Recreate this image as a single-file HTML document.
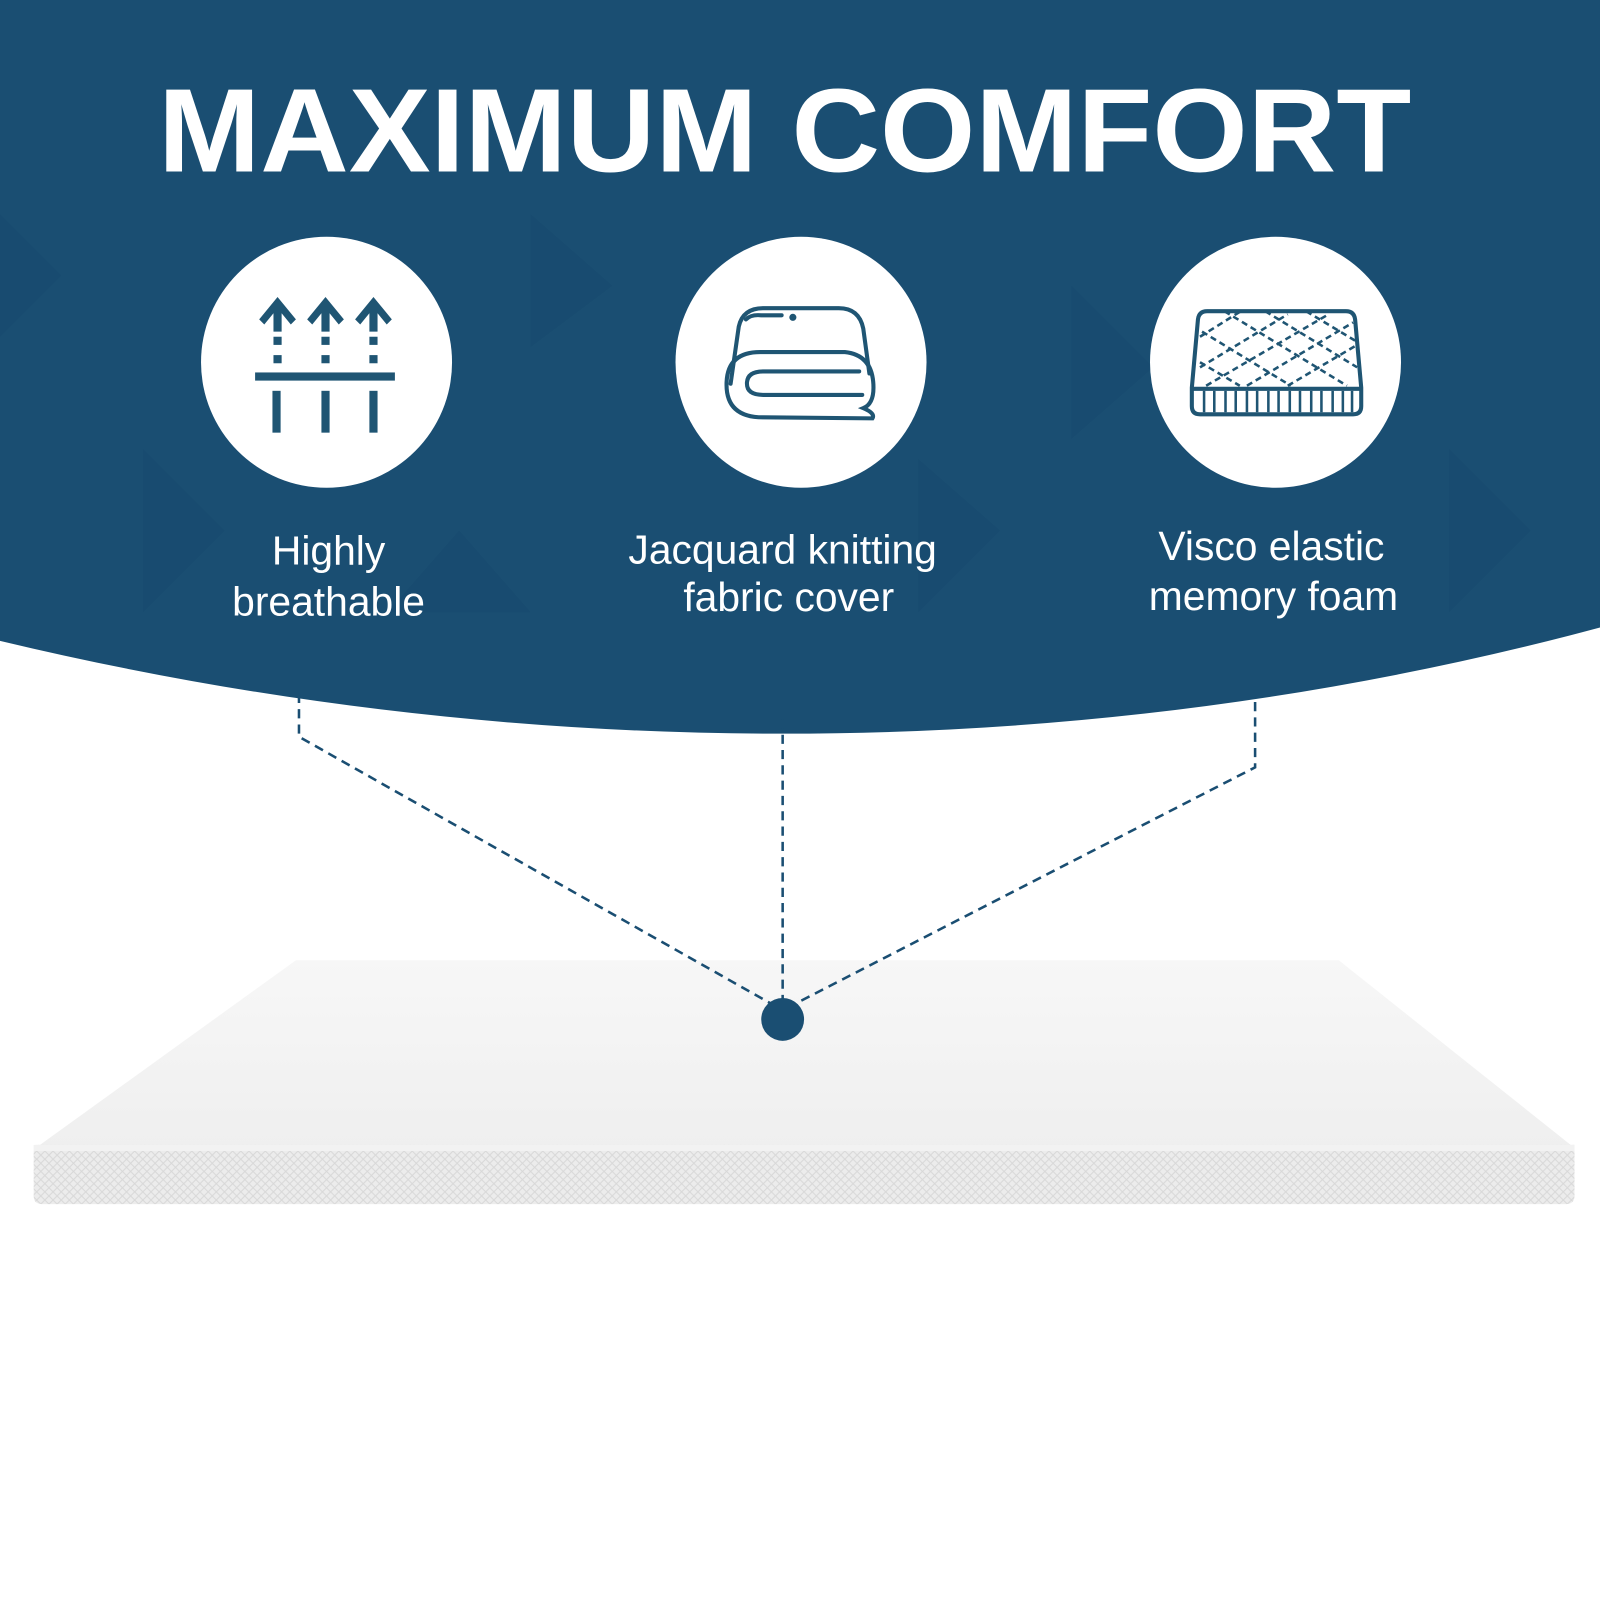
<!DOCTYPE html>
<html><head><meta charset="utf-8"><style>
html,body{margin:0;padding:0;background:#fff}
svg{display:block}
</style></head><body>
<svg width="1600" height="1600" viewBox="0 0 1568 1568" xmlns="http://www.w3.org/2000/svg">
<defs>
<linearGradient id="mt" x1="0" y1="0" x2="0" y2="1">
<stop offset="0" stop-color="#f7f7f7"/><stop offset="1" stop-color="#efefef"/>
</linearGradient>
<pattern id="diam" width="8" height="8" patternUnits="userSpaceOnUse">
<rect width="8" height="8" fill="#ececec"/>
<path d="M0 4 L4 0 L8 4 L4 8Z" fill="none" stroke="#d8d8d8" stroke-width="1"/>
</pattern>
</defs>
<path d="M0 0 H1568 V615 Q1180 719 767 719 Q380 719 0 628 Z" fill="#1a4e72"/>
<g opacity="0.08">
<path d="M0 210 L60 270 L0 330Z M140 440 L220 520 L140 600Z M450 520 L520 600 L380 600Z M900 450 L980 520 L900 600Z M1420 440 L1500 520 L1420 600Z M520 210 L600 280 L520 340Z M1050 280 L1130 360 L1050 430Z" fill="#0d3556"/>
</g>
<text x="769" y="168" text-anchor="middle" font-family="Liberation Sans, sans-serif" font-weight="bold" font-size="116" fill="#fff" textLength="1228" lengthAdjust="spacingAndGlyphs">MAXIMUM COMFORT</text>

<circle cx="320" cy="355" r="123" fill="#fff"/>
<circle cx="785" cy="355" r="123" fill="#fff"/>
<circle cx="1250" cy="355" r="123" fill="#fff"/>

<g fill="#1f5573">
<path d="M272 291 L290 313 L285 318 L276 307 L276 325 L268 325 L268 307 L259 318 L254 313Z"/>
<path d="M319 291 L337 313 L332 318 L323 307 L323 325 L315 325 L315 307 L306 318 L301 313Z"/>
<path d="M366 291 L384 313 L379 318 L370 307 L370 325 L362 325 L362 307 L353 318 L348 313Z"/>
<rect x="268" y="330" width="8" height="8"/><rect x="268" y="348" width="8" height="8"/>
<rect x="315" y="330" width="8" height="8"/><rect x="315" y="348" width="8" height="8"/>
<rect x="362" y="330" width="8" height="8"/><rect x="362" y="348" width="8" height="8"/>
<rect x="250" y="365" width="137" height="8"/>
<rect x="267" y="383" width="8" height="41"/><rect x="315" y="383" width="8" height="41"/><rect x="362" y="383" width="8" height="41"/>
</g>
<g fill="none" stroke="#1f5573" stroke-width="4" stroke-linecap="round">
<path d="M716 376 L724 320 Q728 302 748 302 L822 302 Q842 302 846 322 L852 366"/>
<path d="M745 345 L828 345 Q856 348 856 380 Q856 396 846 400 Q858 405 855 410 L748 409 Q712 409 712 377 Q712 345 745 345Z"/>
<path d="M748 364 L842 364 M748 364 Q732 364 732 376 Q732 387 748 387 L845 387"/>
<path d="M731 313 Q736 308 746 309 L766 309"/>
<circle cx="777" cy="311" r="1.5" fill="#1f5573"/>
</g>
<g fill="none" stroke="#1f5573" stroke-width="4">
<path d="M1183 305 L1319 305 Q1327 305 1328 313 L1334 380 L1334 398 Q1334 406 1326 406 L1176 406 Q1168 406 1168 398 L1168 380 L1174 313 Q1175 305 1183 305Z"/>
<line x1="1168" y1="381" x2="1334" y2="381"/>
</g>
<g stroke="#1f5573" stroke-width="2.5">
<path d="M1180 383 V404 M1190 383 V404 M1201 383 V404 M1211 383 V404 M1222 383 V404 M1232 383 V404 M1243 383 V404 M1253 383 V404 M1264 383 V404 M1274 383 V404 M1285 383 V404 M1295 383 V404 M1306 383 V404 M1316 383 V404 M1325 383 V404"/>
</g>
<g stroke="#1f5573" stroke-width="2.5" stroke-dasharray="6 4" fill="none">
<path d="M1176 330 L1216 305 M1176 360 L1262 308 M1182 378 L1302 308 M1222 378 L1326 316 M1262 378 L1330 338"/>
<path d="M1200 305 L1320 378 M1240 305 L1330 360 M1280 305 L1330 335 M1178 325 L1265 378 M1176 355 L1215 378"/>
</g>

<g font-family="Liberation Sans, sans-serif" font-size="40" fill="#fff" text-anchor="middle">
<text x="322" y="553">Highly</text>
<text x="322" y="603">breathable</text>
<text x="767" y="552">Jacquard knitting</text>
<text x="773" y="599">fabric cover</text>
<text x="1246" y="549">Visco elastic</text>
<text x="1248" y="598">memory foam</text>
</g>

<path d="M290 941 L1312 941 L1543 1125 L35 1125Z" fill="url(#mt)"/>
<path d="M35 1122 L1543 1122 L1543 1172 Q1543 1180 1535 1180 L41 1180 Q33 1180 33 1172 L33 1128Z" fill="url(#diam)"/>
<rect x="33" y="1122" width="1510" height="6" fill="#f2f2f2"/>

<g fill="none" stroke="#1a4e72" stroke-width="2.5" stroke-dasharray="9 6">
<path d="M293 665 L293 722 L767 990"/>
<path d="M767 705 L767 985"/>
<path d="M1230 688 L1230 752 L767 990"/>
</g>
<circle cx="767" cy="999" r="21" fill="#1a4e72"/>
</svg>
</body></html>
